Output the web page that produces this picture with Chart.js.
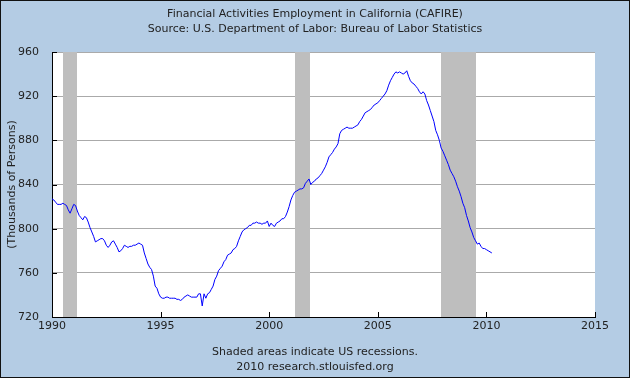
<!DOCTYPE html>
<html><head><meta charset="utf-8">
<script src="https://cdn.jsdelivr.net/npm/chart.js@4/dist/chart.umd.min.js"></script>
<style>
html,body{margin:0;padding:0;background:#b4cce4;}
canvas{display:block;}
</style></head><body>
<canvas id="c" width="630" height="378"></canvas>
<script>
// ---- DATA ----
const firstYear = 1990;            // series starts January 1990, monthly
const employment = [
  827,826,824,822,822,822,823,822,821,817,814,818,   // 1990
  822,821,816,812,810,808,811,810,806,801,797,793,   // 1991
  788,789,790,791,791,789,785,783,785,788,789,786,   // 1992
  783,779,780,782,785,784,783,784,784,785,785,786,   // 1993
  787,786,785,778,773,768,765,763,757,748,746,741,   // 1994
  738,737,737,738,738,737,737,737,737,736,736,735,   // 1995
  736,738,739,740,739,738,738,738,738,741,741,730,   // 1996
  741,737,741,742,745,748,754,757,762,764,766,770,   // 1997
  772,776,777,778,781,782,784,789,793,797,799,800,   // 1998
  801,803,803,805,805,806,805,805,804,805,805,807,   // 1999
  802,805,803,802,805,806,807,809,809,811,815,820,   // 2000
  826,830,833,834,835,836,836,837,841,843,845,840,   // 2001
  842,843,845,846,848,850,853,856,860,865,867,869,   // 2002
  872,874,877,886,889,890,891,892,891,891,891,892,   // 2003
  893,894,897,899,902,905,906,907,908,910,912,913,   // 2004
  914,916,918,920,922,925,930,934,937,940,942,941,   // 2005
  942,941,940,941,943,938,934,932,931,929,927,924,   // 2006
  922,924,922,916,912,907,902,897,889,885,880,873,   // 2007
  870,866,862,858,853,850,847,843,838,834,829,823,   // 2008
  819,812,807,801,797,792,789,786,787,784,782,782,   // 2009
  781,780,779,778                                    // 2010
];
const recessionStarts = [1990.5, 2001.17, 2007.92];
const recessionEnds   = [1991.17, 2001.87, 2009.5];
const xTickValues = [1990, 1995, 2000, 2005, 2010, 2015];
const yTickValues = [720, 760, 800, 840, 880, 920, 960];
const titleLines = ['Financial Activities Employment in California (CAFIRE)',
                    'Source: U.S. Department of Labor: Bureau of Labor Statistics'];
const footLines = ['Shaded areas indicate US recessions.', '2010 research.stlouisfed.org'];
const yAxisTitle = '(Thousands of Persons)';

// ---- CHART ----
const points = employment.map((v, i) => ({x: firstYear + i / 12, y: v}));
const FONT = 'DejaVu Sans';
const TXT = '#222';

const decor = {
  id: 'decor',
  beforeDraw(chart) {
    const {ctx, chartArea: a} = chart;
    ctx.save();
    ctx.fillStyle = '#b4cce4';
    ctx.fillRect(0, 0, chart.width, chart.height);
    ctx.fillStyle = '#ffffff';
    ctx.fillRect(a.left, a.top, a.right - a.left, a.bottom - a.top);
    ctx.restore();
  },
  beforeDatasetsDraw(chart) {
    const {ctx, chartArea: a, scales: {x}} = chart;
    ctx.save();
    ctx.fillStyle = '#bebebe';
    recessionStarts.forEach((s, i) => {
      const x0 = Math.round(x.getPixelForValue(s));
      const x1 = Math.round(x.getPixelForValue(recessionEnds[i]));
      ctx.fillRect(x0, a.top, x1 - x0, a.bottom - a.top);
    });
    ctx.restore();
  },
  afterDraw(chart) {
    const {ctx, chartArea: a, scales: {x, y}} = chart;
    ctx.save();
    ctx.strokeStyle = '#000';
    ctx.lineWidth = 1;
    ctx.beginPath();
    xTickValues.forEach(v => {
      const px = Math.round(x.getPixelForValue(v)) + 0.5;
      ctx.moveTo(px, a.bottom); ctx.lineTo(px, a.bottom - 5);
    });
    yTickValues.forEach(v => {
      const py = Math.round(y.getPixelForValue(v)) + 0.5;
      ctx.moveTo(a.left, py); ctx.lineTo(a.left + 5, py);
    });
    ctx.stroke();
    ctx.strokeStyle = '#111';
    ctx.strokeRect(0.5, 0.5, chart.width - 1, chart.height - 1);
    ctx.restore();
  }
};

new Chart(document.getElementById('c'), {
  type: 'line',
  data: {
    datasets: [{
      data: points,
      borderColor: '#0000ff',
      borderWidth: 1,
      pointRadius: 0,
      tension: 0,
      fill: false
    }]
  },
  options: {
    responsive: false,
    animation: false,
    devicePixelRatio: 1,
    layout: {padding: 0},
    plugins: {
      legend: {display: false},
      tooltip: {enabled: false},
      title: {
        display: true,
        text: titleLines,
        color: TXT,
        font: {family: FONT, size: 11, weight: 'normal', lineHeight: 15 / 11},
        padding: {top: 6.5, bottom: 15.5}
      },
      subtitle: {
        display: true,
        position: 'bottom',
        text: footLines,
        color: TXT,
        font: {family: FONT, size: 11, weight: 'normal', lineHeight: 15 / 11},
        padding: {top: 0, bottom: 3.5}
      }
    },
    scales: {
      x: {
        type: 'linear',
        min: 1990, max: 2015,
        afterBuildTicks(scale) { scale.ticks = xTickValues.map(v => ({value: v})); },
        afterFit(scale) { scale.height = 27.5; },
        ticks: {color: TXT, font: {family: FONT, size: 11}, padding: 3, maxRotation: 0,
                autoSkip: false, callback: v => String(v)},
        grid: {display: false, drawTicks: false},
        border: {display: true, color: '#000', width: 1}
      },
      y: {
        min: 720, max: 960,
        afterBuildTicks(scale) { scale.ticks = yTickValues.map(v => ({value: v})); },
        afterFit(scale) { scale.width = 52; },
        ticks: {color: TXT, font: {family: FONT, size: 11}, padding: 13, autoSkip: false},
        grid: {color: '#aaaaaa', drawTicks: false},
        border: {display: true, color: '#000', width: 1},
        title: {display: true, text: yAxisTitle, color: TXT,
                font: {family: FONT, size: 11, lineHeight: 1.2},
                padding: {top: 5.4, bottom: 0}}
      },
      yRight: {
        position: 'right',
        display: true,
        afterFit(scale) { scale.width = 35; },
        ticks: {display: false},
        grid: {display: false, drawTicks: false},
        border: {display: false}
      }
    }
  },
  plugins: [decor]
});
</script>
</body></html>
